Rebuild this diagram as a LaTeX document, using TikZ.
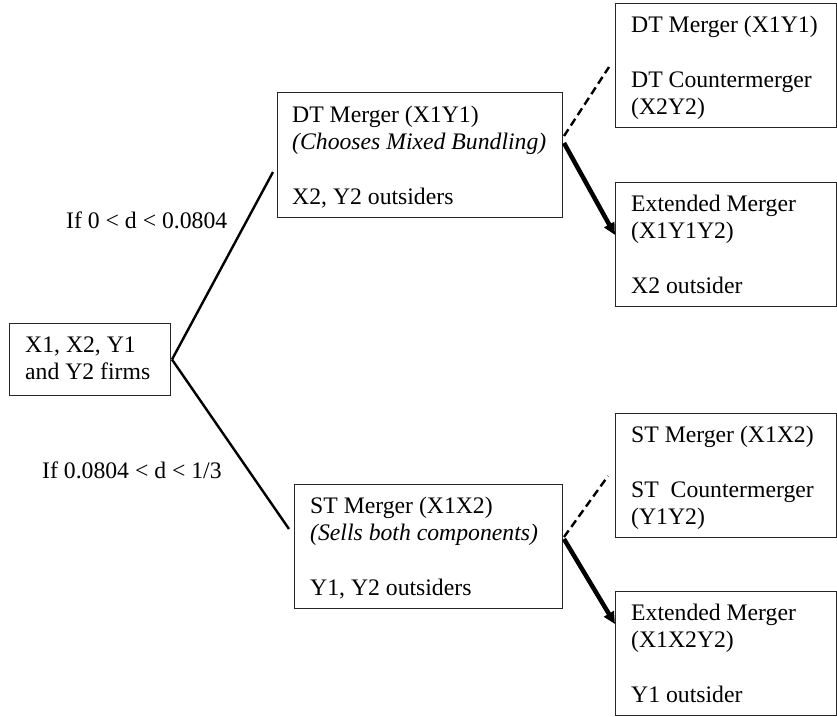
\documentclass[tikz,border=0pt]{standalone}
\usepackage{fontspec}
\setmainfont{Liberation Serif}
\usetikzlibrary{arrows.meta}
\begin{document}
\begin{tikzpicture}[x=1pt,y=-1pt,
  font=\fontsize{23.7pt}{27.5pt}\selectfont,
  box/.style={draw=black!85,line width=1pt,inner sep=0pt,anchor=north west},
  rbox/.style={box,minimum width=221pt,minimum height=124pt},
  txt/.style={inner sep=0pt,anchor=north west,align=left},
  branch/.style={line width=2.4pt},
  opt/.style={line width=4.5pt,-{Triangle[length=12pt,width=11pt]}},
  alt/.style={line width=2.4pt,dash pattern=on 8pt off 4.5pt}]
\useasboundingbox (0,0) rectangle (837,716);
\newcommand{\fs}{\rule{0pt}{20pt}}
% boxes
\node[box,minimum width=161pt,minimum height=72pt] (init) at (9,323) {};
\node[box,minimum width=285pt,minimum height=125pt] (dt) at (277,92) {};
\node[box,minimum width=268pt,minimum height=124pt] (st) at (294,484) {};
\node[rbox] (dtc) at (615,3) {};
\node[rbox] (dte) at (615,182) {};
\node[rbox] (stc) at (615,413) {};
\node[rbox] (ste) at (615,591) {};
% texts
\node[txt] (initT) at ([shift={(16,9)}]init.north west) {\fs X1, X2, Y1\\and Y2 firms};
\node[txt] (dtT) at ([shift={(15,10)}]dt.north west) {\fs DT Merger (X1Y1)\\\textit{(Chooses Mixed Bundling)}\\[27.5pt]X2, Y2 outsiders};
\node[txt] (stT) at ([shift={(16,9)}]st.north west) {\fs ST Merger (X1X2)\\\textit{(Sells both components)}\\[27.5pt]Y1, Y2 outsiders};
\node[txt] (dtcT) at ([shift={(16,9)}]dtc.north west) {\fs DT Merger (X1Y1)\\[27.5pt]DT Countermerger\\(X2Y2)};
\node[txt] (dteT) at ([shift={(16,9)}]dte.north west) {\fs Extended Merger\\(X1Y1Y2)\\[27.5pt]X2 outsider};
\node[txt] (stcT) at ([shift={(16,9)}]stc.north west) {\fs ST Merger (X1X2)\\[27.5pt]ST\ \ Countermerger\\(Y1Y2)};
\node[txt] (steT) at ([shift={(16,9)}]ste.north west) {\fs Extended Merger\\(X1X2Y2)\\[27.5pt]Y1 outsider};
% condition labels
\node[inner sep=0pt,anchor=base west] (c1) at (66,228) {If 0 < d < 0.0804};
\node[inner sep=0pt,anchor=base west] (c2) at (42,478) {If 0.0804 < d < 1/3};
% connector end points
\coordinate (o) at ([shift={(1,0)}]init.east);
\coordinate (dtin) at ([shift={(-4,80)}]dt.north west);
\coordinate (stin) at ([shift={(-5,45)}]st.north west);
\coordinate (dtoa) at ([shift={(1,44)}]dt.north east);
\coordinate (dtob) at ([shift={(1,51)}]dt.north east);
\coordinate (dtcin) at ([shift={(-6,64)}]dtc.north west);
\coordinate (dtein) at ([shift={(0,53)}]dte.north west);
\coordinate (stoa) at ([shift={(1,53)}]st.north east);
\coordinate (stob) at ([shift={(1,55)}]st.north east);
\coordinate (stcin) at ([shift={(-7,63)}]stc.north west);
\coordinate (stein) at ([shift={(0,33)}]ste.north west);
% connectors
\draw[branch] (o) -- (dtin);
\draw[branch] (o) -- (stin);
\draw[alt] (dtoa) -- (dtcin);
\draw[opt] (dtob) -- (dtein);
\draw[alt] (stoa) -- (stcin);
\draw[opt] (stob) -- (stein);
\end{tikzpicture}
\end{document}
